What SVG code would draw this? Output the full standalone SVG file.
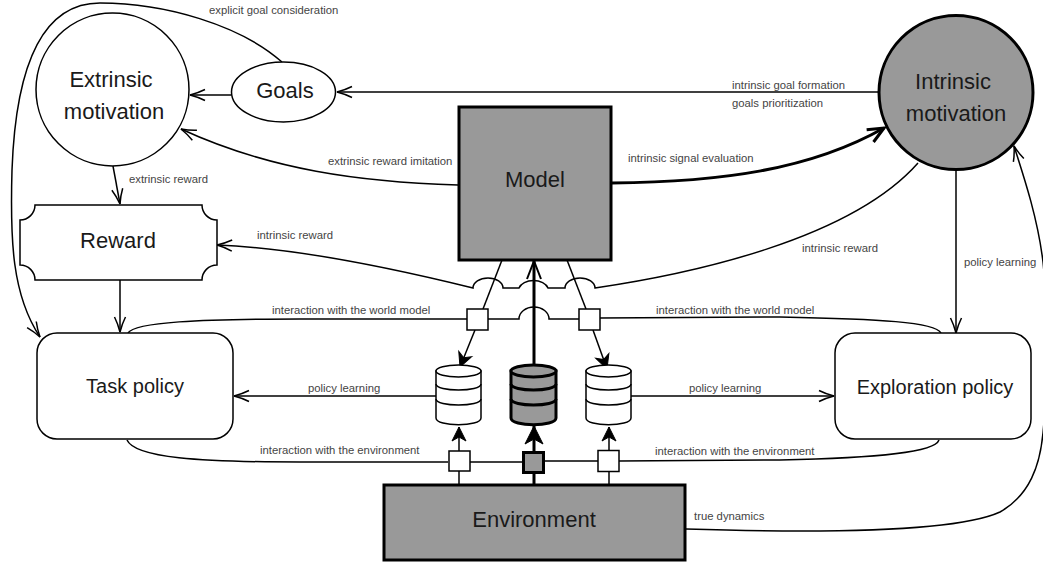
<svg xmlns="http://www.w3.org/2000/svg" width="1043" height="563" viewBox="0 0 1043 563">
<defs>
<marker id="o" markerUnits="userSpaceOnUse" markerWidth="20" markerHeight="20" refX="16" refY="10" orient="auto" overflow="visible"><path d="M1 4.500 Q8 8 16 10 Q8 12 1 15.500" fill="none" stroke="#000" stroke-width="1.500"/></marker>
<marker id="a" markerUnits="userSpaceOnUse" markerWidth="20" markerHeight="20" refX="15" refY="10" orient="auto" overflow="visible"><path d="M1 3 L15 10 L1 17 L5 10 Z" fill="#000" stroke="#000" stroke-width="1"/></marker>
<marker id="f" markerUnits="userSpaceOnUse" markerWidth="24" markerHeight="24" refX="18" refY="12" orient="auto" overflow="visible"><path d="M0 3 L18 12 L0 21 L5 12 Z" fill="#000" stroke="#000" stroke-width="1"/></marker>
<marker id="m" markerUnits="userSpaceOnUse" markerWidth="24" markerHeight="24" refX="18" refY="12" orient="auto" overflow="visible"><path d="M0 5 L18 12 L0 19" fill="none" stroke="#000" stroke-width="2"/></marker>
<marker id="t" markerUnits="userSpaceOnUse" markerWidth="24" markerHeight="24" refX="18" refY="12" orient="auto" overflow="visible"><path d="M2 5 L18 12 L2 19" fill="none" stroke="#000" stroke-width="3"/></marker>
</defs>
<style>
.c{fill:none;stroke:#000;stroke-width:1.500}
.b{fill:none;stroke:#000;stroke-width:3}
.n{fill:#fff;stroke:#000;stroke-width:1.500}
.g{fill:#999;stroke:#000;stroke-width:3}
text{font-family:"Liberation Sans",Arial,sans-serif;fill:#1a1a1a}
.l{font-size:22px;text-anchor:middle}
.p{font-size:20px;text-anchor:middle}
.s{font-size:11.300px;fill:#444}
</style>
<g id="connectors">
<path class="c" d="M282 62 C240 25 165 3 100 3 C45 3 16 60 12 170 C10 240 12 295 40 337" marker-end="url(#o)"/>
<path class="c" d="M231 95 L190 95" marker-end="url(#o)"/>
<path class="c" d="M879 92 L337 92" marker-end="url(#o)"/>
<path class="c" d="M458 185 C360 182 270 170 181 129" marker-end="url(#o)"/>
<path class="c" d="M113 166 L120 204" marker-end="url(#o)"/>
<path class="b" d="M612 183 C720 182 810 170 884 128" marker-end="url(#t)"/>
<path class="c" d="M918 163 C850 240 690 274 595 288 A15 10 0 0 0 565 288 L548 288 A15 10 0 0 0 519 288 L503 288 A15 10 0 0 0 473 288 C400 270 300 248 217 245" marker-end="url(#o)"/>
<path class="c" d="M956 170 L956 333" marker-end="url(#o)"/>
<path class="c" d="M120 280 L120 332" marker-end="url(#o)"/>
<path class="c" d="M128 333 C135 322 200 319 300 319 L467 319 M488 319 L519 319 A15 12 0 0 1 549 319 L579 319 M600 318 L780 317 C880 319 935 322 941 333"/>
<path class="c" d="M127 440 C135 458 200 462 300 462 L448 462 M470 462 L523 462 M545 461 L598 461 M619 461 L780 460 C880 458 935 452 939 440"/>
<path class="c" d="M502 260 L483 309"/>
<path class="c" d="M475 330 L460 367" marker-end="url(#a)"/>
<path class="c" d="M567 260 L586 309"/>
<path class="c" d="M593 330 L607 369" marker-end="url(#a)"/>
<path class="b" d="M534 367 L534 261" marker-end="url(#m)"/>
<path class="c" d="M436 396 L234 396" marker-end="url(#o)"/>
<path class="c" d="M631 396 L834 396" marker-end="url(#o)"/>
<path class="c" d="M459 484 L459 471"/>
<path class="c" d="M459 451 L459 427" marker-end="url(#a)"/>
<path class="b" d="M534 484 L534 473"/>
<path class="b" d="M534 452 L534 426" marker-end="url(#f)"/>
<path class="c" d="M609 484 L609 472"/>
<path class="c" d="M609 450 L609 427" marker-end="url(#a)"/>
<path class="c" d="M686 529 C780 532 950 535 1000 512 C1030 495 1040 465 1043 433 C1048 380 1050 330 1043 262 C1038 220 1025 180 1014 146" marker-end="url(#o)"/>
</g>
<g id="extrinsic"><circle class="n" cx="112.500" cy="89.500" r="76.500"/><text class="l" x="111" y="87">Extrinsic</text><text class="l" x="114" y="119">motivation</text></g>
<g id="goals"><ellipse class="n" cx="283.500" cy="92" rx="52" ry="30"/><text class="l" x="285" y="98">Goals</text></g>
<g id="intrinsic"><circle class="g" cx="956" cy="92.500" r="77"/><text class="l" x="953" y="89">Intrinsic</text><text class="l" x="956" y="121">motivation</text></g>
<g id="model"><rect class="g" x="459" y="107" width="152" height="153"/><text class="l" x="535" y="187">Model</text></g>
<g id="reward"><path class="n" d="M35 205 L202 205 A15 15 0 0 0 217 220 L217 265 A15 15 0 0 0 202 280 L35 280 A15 15 0 0 0 20 265 L20 220 A15 15 0 0 0 35 205 Z"/><text class="l" x="118" y="248">Reward</text></g>
<g id="task-policy"><rect class="n" x="37" y="333" width="196" height="106" rx="20"/><text class="p" x="135" y="393">Task policy</text></g>
<g id="exploration-policy"><rect class="n" x="835" y="333" width="196" height="106" rx="20"/><text class="p" x="935" y="394">Exploration policy</text></g>
<g id="environment"><rect class="g" x="384" y="485" width="301" height="75"/><text class="l" x="534" y="527">Environment</text></g>
<g id="db-left"><path class="n" d="M436 371 L436 418 C436 427 481 427 481 418 L481 371 Z"/><ellipse class="n" cx="458.500" cy="371" rx="22.500" ry="6"/><path class="c" d="M436 384 C436 392 481 392 481 384 M436 399 C436 407 481 407 481 399"/></g>
<g id="db-mid"><path class="g" d="M511 371 L511 418 C511 427 556 427 556 418 L556 371 Z"/><ellipse class="g" cx="533.500" cy="371" rx="22.500" ry="6"/><path class="b" d="M511 384 C511 392 556 392 556 384 M511 399 C511 407 556 407 556 399"/></g>
<g id="db-right"><path class="n" d="M586 371 L586 418 C586 427 631 427 631 418 L631 371 Z"/><ellipse class="n" cx="608.500" cy="371" rx="22.500" ry="6"/><path class="c" d="M586 384 C586 392 631 392 631 384 M586 399 C586 407 631 407 631 399"/></g>
<g id="sq-1"><rect class="n" x="467" y="309" width="21" height="21"/></g>
<g id="sq-2"><rect class="n" x="579" y="309" width="21" height="21"/></g>
<g id="sq-3"><rect class="n" x="449" y="451" width="21" height="20"/></g>
<g id="sq-4"><rect class="g" x="523.500" y="452.500" width="20" height="20"/></g>
<g id="sq-5"><rect class="n" x="598" y="450.500" width="21" height="21"/></g>
<g id="labels">
<text class="s" x="209" y="14">explicit goal consideration</text>
<text class="s" x="732" y="89">intrinsic goal formation</text>
<text class="s" x="732" y="107">goals prioritization</text>
<text class="s" x="328" y="165">extrinsic reward imitation</text>
<text class="s" x="628" y="162">intrinsic signal evaluation</text>
<text class="s" x="129" y="183">extrinsic reward</text>
<text class="s" x="257" y="239">intrinsic reward</text>
<text class="s" x="802" y="252">intrinsic reward</text>
<text class="s" x="964" y="266">policy learning</text>
<text class="s" x="272" y="314">interaction with the world model</text>
<text class="s" x="656" y="314">interaction with the world model</text>
<text class="s" x="308" y="392">policy learning</text>
<text class="s" x="689" y="392">policy learning</text>
<text class="s" x="260" y="454">interaction with the environment</text>
<text class="s" x="655" y="455">interaction with the environment</text>
<text class="s" x="694" y="520">true dynamics</text>
</g>
</svg>
